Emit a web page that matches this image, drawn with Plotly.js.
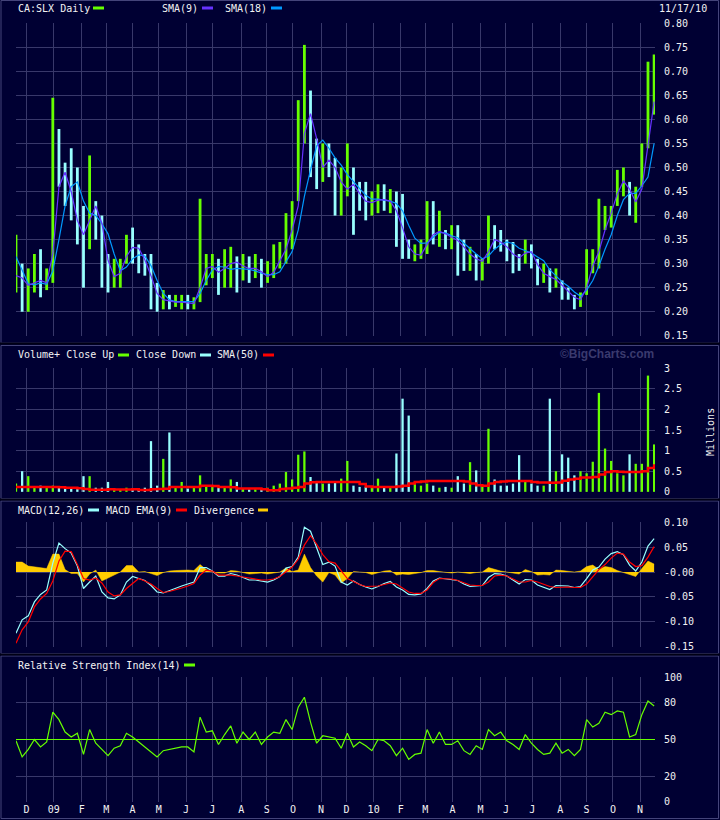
<!DOCTYPE html>
<html>
<head>
<meta charset="utf-8">
<script src="https://cdn.plot.ly/plotly-3.0.1.min.js"></script>
<style>
html,body{margin:0;padding:0;background:#000033;}
#chart{width:720px;height:820px;}
</style>
</head>
<body>
<div id="chart"></div>
<script>
// ---------- DATA (weekly samples) ----------
const weeks = [
'2008-11-19','2008-11-26','2008-12-03','2008-12-10','2008-12-17','2008-12-24','2008-12-31',
'2009-01-07','2009-01-14','2009-01-21','2009-01-28','2009-02-04','2009-02-11','2009-02-18','2009-02-25',
'2009-03-04','2009-03-11','2009-03-18','2009-03-25','2009-04-01','2009-04-08','2009-04-15','2009-04-22','2009-04-29',
'2009-05-06','2009-05-13','2009-05-20','2009-05-27','2009-06-03','2009-06-10','2009-06-17','2009-06-24',
'2009-07-01','2009-07-08','2009-07-15','2009-07-22','2009-07-29','2009-08-05','2009-08-12','2009-08-19','2009-08-26',
'2009-09-02','2009-09-09','2009-09-16','2009-09-23','2009-09-30','2009-10-07','2009-10-14','2009-10-21','2009-10-28',
'2009-11-04','2009-11-11','2009-11-18','2009-11-25','2009-12-02','2009-12-09','2009-12-16','2009-12-23','2009-12-30',
'2010-01-06','2010-01-13','2010-01-20','2010-01-27','2010-02-03','2010-02-10','2010-02-17','2010-02-24',
'2010-03-03','2010-03-10','2010-03-17','2010-03-24','2010-03-31','2010-04-07','2010-04-14','2010-04-21','2010-04-28',
'2010-05-05','2010-05-12','2010-05-19','2010-05-26','2010-06-02','2010-06-09','2010-06-16','2010-06-23','2010-06-30',
'2010-07-07','2010-07-14','2010-07-21','2010-07-28','2010-08-04','2010-08-11','2010-08-18','2010-08-25',
'2010-09-01','2010-09-08','2010-09-15','2010-09-22','2010-09-29','2010-10-06','2010-10-13','2010-10-20','2010-10-27',
'2010-11-03','2010-11-10','2010-11-17'];

const high = [0.36,0.30,0.29,0.32,0.33,0.29,0.645,0.58,0.51,0.54,
0.50,0.42,0.525,0.43,0.40,0.32,0.31,0.31,0.36,0.375,
0.34,0.32,0.32,0.26,0.245,0.235,0.235,0.235,0.235,0.23,
0.435,0.32,0.32,0.31,0.33,0.335,0.315,0.32,0.315,0.32,
0.31,0.305,0.34,0.345,0.405,0.43,0.64,0.755,0.66,0.56,
0.55,0.55,0.52,0.50,0.55,0.50,0.47,0.47,0.45,0.465,
0.465,0.455,0.45,0.445,0.35,0.34,0.35,0.43,0.43,0.41,
0.37,0.38,0.38,0.35,0.335,0.32,0.31,0.40,0.38,0.37,
0.35,0.345,0.32,0.35,0.34,0.31,0.30,0.29,0.29,0.265,
0.25,0.235,0.24,0.33,0.33,0.435,0.42,0.42,0.495,0.50,
0.47,0.46,0.55,0.72,0.735];

const low = [0.24,0.20,0.20,0.24,0.23,0.245,0.26,0.46,0.42,0.39,
0.34,0.25,0.33,0.35,0.25,0.24,0.25,0.25,0.30,0.30,
0.28,0.275,0.205,0.20,0.205,0.205,0.21,0.205,0.205,0.205,
0.22,0.255,0.27,0.235,0.25,0.25,0.24,0.265,0.26,0.27,
0.25,0.26,0.27,0.29,0.30,0.33,0.43,0.55,0.48,0.455,
0.47,0.48,0.40,0.40,0.44,0.36,0.41,0.39,0.40,0.405,
0.41,0.405,0.335,0.31,0.31,0.305,0.31,0.32,0.34,0.335,
0.33,0.33,0.275,0.285,0.285,0.265,0.265,0.30,0.33,0.325,
0.305,0.28,0.285,0.30,0.29,0.255,0.26,0.24,0.25,0.225,
0.225,0.205,0.21,0.235,0.28,0.29,0.37,0.375,0.42,0.44,
0.40,0.385,0.46,0.54,0.61];

const close = [0.28,0.22,0.25,0.26,0.25,0.27,0.55,0.50,0.46,0.44,
0.40,0.34,0.42,0.40,0.30,0.27,0.28,0.29,0.34,0.33,
0.31,0.30,0.23,0.22,0.222,0.215,0.22,0.224,0.215,0.218,
0.29,0.30,0.305,0.28,0.30,0.302,0.29,0.30,0.29,0.292,
0.28,0.29,0.31,0.32,0.37,0.41,0.60,0.62,0.53,0.50,
0.52,0.51,0.44,0.46,0.49,0.46,0.44,0.42,0.43,0.435,
0.428,0.432,0.37,0.33,0.32,0.322,0.33,0.36,0.358,0.362,
0.355,0.357,0.32,0.31,0.312,0.29,0.30,0.36,0.35,0.345,
0.33,0.31,0.30,0.33,0.31,0.28,0.282,0.265,0.27,0.245,
0.235,0.22,0.225,0.30,0.31,0.38,0.40,0.41,0.46,0.47,
0.42,0.44,0.53,0.64,0.69];

const sma9 = [0.275,0.27,0.255,0.26,0.265,0.26,0.32,0.46,0.49,0.45,
0.39,0.36,0.39,0.42,0.384,0.307,0.273,0.28,0.315,0.334,
0.332,0.308,0.275,0.238,0.225,0.222,0.22,0.22,0.218,0.217,
0.25,0.29,0.294,0.282,0.29,0.30,0.303,0.295,0.29,0.29,
0.283,0.273,0.282,0.307,0.33,0.37,0.42,0.57,0.612,0.56,
0.50,0.515,0.50,0.47,0.455,0.465,0.446,0.43,0.427,0.432,
0.433,0.43,0.41,0.375,0.335,0.32,0.318,0.34,0.36,0.367,
0.362,0.355,0.348,0.335,0.32,0.31,0.305,0.325,0.35,0.345,
0.335,0.32,0.312,0.322,0.325,0.298,0.28,0.273,0.267,0.255,
0.242,0.23,0.225,0.25,0.295,0.325,0.37,0.405,0.445,0.472,
0.455,0.428,0.455,0.545,0.637];

const sma18 = [0.315,0.287,0.258,0.256,0.26,0.257,0.285,0.35,0.42,0.46,
0.47,0.43,0.405,0.40,0.383,0.362,0.32,0.285,0.293,0.31,
0.318,0.316,0.296,0.265,0.238,0.225,0.221,0.221,0.221,0.221,
0.238,0.265,0.287,0.294,0.293,0.288,0.29,0.289,0.288,0.285,
0.28,0.277,0.277,0.283,0.305,0.325,0.37,0.44,0.495,0.545,
0.557,0.54,0.52,0.505,0.485,0.47,0.455,0.442,0.434,0.434,
0.432,0.43,0.425,0.41,0.38,0.353,0.342,0.343,0.355,0.365,
0.364,0.358,0.354,0.342,0.332,0.32,0.31,0.316,0.33,0.34,
0.345,0.342,0.332,0.327,0.322,0.314,0.306,0.287,0.275,0.262,
0.253,0.241,0.232,0.245,0.265,0.295,0.33,0.36,0.40,0.433,
0.446,0.446,0.462,0.48,0.55];

// volume in millions
const volume = [0.2,0.5,0.38,0.12,0.15,0.1,0.15,0.1,0.1,0.1,
0.1,0.38,0.38,0.1,0.1,0.24,0.08,0.06,0.1,0.08,
0.08,0.1,1.23,0.15,0.8,1.44,0.1,0.24,0.08,0.1,
0.4,0.12,0.15,0.1,0.12,0.3,0.24,0.08,0.06,0.06,
0.08,0.1,0.15,0.2,0.48,0.3,0.9,0.98,0.36,0.25,
0.2,0.2,0.22,0.32,0.75,0.15,0.12,0.12,0.1,0.32,
0.12,0.1,0.93,2.26,1.85,0.25,0.15,0.2,0.15,0.1,
0.12,0.1,0.38,0.2,0.72,0.52,0.15,1.53,0.3,0.15,
0.15,0.2,0.89,0.25,0.2,0.15,0.15,2.26,0.5,0.91,
0.83,0.4,0.5,0.45,0.73,2.4,1.05,0.75,0.45,0.4,
0.91,0.68,0.68,2.82,1.15];

const volSma50 = [0.12,0.12,0.12,0.12,0.12,0.12,0.12,0.11,0.1,0.1,
0.09,0.07,0.05,0.05,0.05,0.06,0.055,0.055,0.055,0.06,
0.045,0.045,0.06,0.07,0.075,0.12,0.12,0.12,0.12,0.12,
0.145,0.145,0.14,0.12,0.12,0.11,0.08,0.08,0.08,0.08,
0.06,0.04,0.04,0.07,0.08,0.1,0.12,0.2,0.23,0.24,
0.24,0.24,0.24,0.24,0.24,0.24,0.19,0.13,0.12,0.12,
0.12,0.12,0.13,0.145,0.2,0.24,0.25,0.26,0.26,0.26,
0.26,0.26,0.26,0.25,0.2,0.16,0.145,0.2,0.24,0.25,
0.26,0.26,0.26,0.26,0.24,0.225,0.225,0.22,0.225,0.27,
0.3,0.32,0.35,0.35,0.36,0.42,0.48,0.5,0.49,0.48,
0.48,0.48,0.5,0.58,0.67];

const macd = [-0.123,-0.096,-0.088,-0.06,-0.045,-0.036,0.018,0.058,0.047,0.038,
0.012,-0.033,-0.02,-0.008,-0.04,-0.052,-0.054,-0.046,-0.02,-0.009,
-0.013,-0.017,-0.027,-0.04,-0.042,-0.037,-0.033,-0.028,-0.024,-0.02,
0.009,0.009,0.002,-0.008,-0.008,-0.003,-0.006,-0.011,-0.016,-0.016,
-0.018,-0.02,-0.016,-0.009,0.008,0.011,0.03,0.09,0.082,0.048,
0.015,0.02,0.012,-0.02,-0.026,-0.018,-0.025,-0.03,-0.034,-0.029,
-0.023,-0.019,-0.03,-0.036,-0.045,-0.046,-0.044,-0.033,-0.018,-0.012,
-0.014,-0.016,-0.017,-0.024,-0.029,-0.028,-0.027,-0.011,-0.003,-0.004,
-0.008,-0.016,-0.024,-0.015,-0.016,-0.026,-0.03,-0.035,-0.027,-0.027,
-0.028,-0.031,-0.029,-0.013,0.004,0.01,0.026,0.037,0.041,0.035,
0.014,0.002,0.02,0.052,0.067];

const macdSignal = [-0.143,-0.116,-0.10,-0.07,-0.054,-0.043,-0.018,0.022,0.042,0.041,
0.015,-0.013,-0.016,-0.012,-0.022,-0.04,-0.048,-0.046,-0.033,-0.022,
-0.013,-0.018,-0.024,-0.033,-0.041,-0.039,-0.036,-0.032,-0.028,-0.023,
-0.006,0.004,0.002,-0.006,-0.006,-0.006,-0.008,-0.01,-0.012,-0.013,
-0.016,-0.016,-0.014,-0.009,0.0,0.01,0.026,0.054,0.073,0.056,
0.035,0.021,0.018,0.002,-0.013,-0.019,-0.025,-0.029,-0.029,-0.028,
-0.025,-0.022,-0.024,-0.032,-0.04,-0.043,-0.043,-0.036,-0.021,-0.013,
-0.013,-0.014,-0.017,-0.022,-0.026,-0.027,-0.027,-0.02,-0.008,-0.006,
-0.008,-0.014,-0.02,-0.02,-0.017,-0.02,-0.025,-0.029,-0.031,-0.03,
-0.03,-0.031,-0.031,-0.024,-0.01,0.005,0.015,0.028,0.038,0.036,
0.02,0.011,0.013,0.03,0.051];

const rsi = [49,36,42,50,44,48,72,66,56,52,
55,38,58,47,42,37,43,45,55,52,
48,44,40,36,41,42,43,44,44,40,
68,56,57,46,54,61,47,56,50,56,
46,52,56,55,66,58,76,84,64,47,
53,52,51,43,55,44,48,45,41,50,
49,45,37,43,34,38,39,58,47,56,
46,46,49,41,38,45,42,58,53,56,
49,46,42,54,47,42,38,39,47,39,
42,37,42,66,60,63,72,70,73,72,
52,54,70,81,77];

const monthTicks = ['2008-12-01','2009-01-01','2009-02-02','2009-03-02','2009-04-01','2009-05-01','2009-06-01',
'2009-07-01','2009-08-03','2009-09-01','2009-10-01','2009-11-02','2009-12-01','2010-01-01','2010-02-01',
'2010-03-01','2010-04-01','2010-05-03','2010-06-01','2010-07-01','2010-08-02','2010-09-01','2010-10-01','2010-11-01'];
const monthLabels = ['D','09','F','M','A','M','J','J','A','S','O','N','D','10','F','M','A','M','J','J','A','S','O','N'];

const priceTicks = [0.15,0.20,0.25,0.30,0.35,0.40,0.45,0.50,0.55,0.60,0.65,0.70,0.75,0.80];
const volTicks = [0,0.5,1,1.5,2,2.5,3];
const volTickText = ['0','0.5','1','1.5','2','2.5','3'];
const macdTicks = [-0.15,-0.10,-0.05,0,0.05,0.10];
const macdTickText = ['-0.15','-0.10','-0.05','-0.00','0.05','0.10'];
const rsiTicks = [0,20,50,80,100];

// ---------- STYLE ----------
const BG = '#000033', GRID = '#38386a', FRAME = '#44447a', TXT = '#f2f2f2';
const UP = '#66ff00', DOWN = '#99ffff';
const MONO = 'DejaVu Sans Mono, monospace';
const W = 720, H = 820, L = 16, R = 65, T = 23, B = 18;
const PW = W - L - R, PH = H - T - B;
const px = x => (x - L) / PW;
const py = y => (H - B - y) / PH;
const DAY = 86400000;

// derived
const upDown = close.map((c, i) => (i === 0 || c >= close[i - 1]) ? UP : DOWN);
const span = high.map((h, i) => h - low[i]);
const divergence = macd.map((m, i) => m - macdSignal[i]);

const traces = [
  {type:'bar', x:weeks, y:span, base:low, width:3.2*DAY, marker:{color:upDown, line:{width:0}}, xaxis:'x', yaxis:'y'},
  {type:'scatter', mode:'lines', x:weeks, y:sma18, line:{color:'#0099ff', width:1.2}, xaxis:'x', yaxis:'y'},
  {type:'scatter', mode:'lines', x:weeks, y:sma9, line:{color:'#6633ff', width:1.2}, xaxis:'x', yaxis:'y'},

  {type:'bar', x:weeks, y:volume, width:2.6*DAY, marker:{color:upDown, line:{width:0}}, xaxis:'x', yaxis:'y2'},
  {type:'scatter', mode:'lines', x:weeks, y:volSma50, line:{color:'#ff0000', width:2.5, shape:'hv'}, xaxis:'x', yaxis:'y2'},

  {type:'scatter', mode:'lines', x:weeks, y:divergence, fill:'tozeroy', fillcolor:'#ffcc00', line:{color:'#ffcc00', width:0.5}, xaxis:'x', yaxis:'y3'},
  {type:'scatter', mode:'lines', x:weeks, y:macd, line:{color:'#99ffff', width:1.2}, xaxis:'x', yaxis:'y3'},
  {type:'scatter', mode:'lines', x:weeks, y:macdSignal, line:{color:'#ff0000', width:1.2}, xaxis:'x', yaxis:'y3'},

  {type:'scatter', mode:'lines', x:weeks, y:rsi, line:{color:UP, width:1.2}, xaxis:'x', yaxis:'y4'}
];

const yBase = {side:'right', anchor:'x', showgrid:true, gridcolor:GRID, gridwidth:1, zeroline:false, showline:false,
  ticks:'outside', ticklen:6, tickcolor:'rgba(0,0,0,0)', tickfont:{family:MONO, size:10, color:TXT}, fixedrange:true};

function txt(text, x, y, extra) {
  return Object.assign({text:text, xref:'paper', yref:'paper', x:px(x), y:py(y), xanchor:'left', yanchor:'middle',
    showarrow:false, font:{family:MONO, size:10, color:TXT}}, extra || {});
}
function swatch(x0, x1, y, color) {
  return {type:'line', xref:'paper', yref:'paper', x0:px(x0), x1:px(x1), y0:py(y), y1:py(y), line:{color:color, width:3}};
}
function frame(y0, y1) {
  return {type:'rect', xref:'paper', yref:'paper', x0:px(1), x1:px(718.5), y0:py(y1), y1:py(y0), line:{color:FRAME, width:1}, layer:'below'};
}
function darkLine(y) {
  return {type:'line', xref:'paper', yref:'paper', x0:px(0), x1:px(720), y0:py(y), y1:py(y), line:{color:'#000014', width:2}};
}

const layout = {
  width:W, height:H, margin:{l:L, r:R, t:T, b:B},
  paper_bgcolor:BG, plot_bgcolor:BG, showlegend:false, hovermode:false,
  xaxis:{type:'date', anchor:'y4', range:['2008-11-19','2010-11-18'], tickvals:monthTicks, ticktext:monthLabels,
    showgrid:true, gridcolor:GRID, gridwidth:1, zeroline:false, showline:false, ticks:'',
    tickfont:{family:MONO, size:10, color:TXT}, fixedrange:true},
  yaxis: Object.assign({}, yBase, {domain:[py(336), py(23)], range:[0.1495, 0.8005], tickvals:priceTicks, tickformat:'.2f'}),
  yaxis2: Object.assign({}, yBase, {domain:[py(492), py(368)], range:[-0.004, 3.004], tickvals:volTicks, ticktext:volTickText}),
  yaxis3: Object.assign({}, yBase, {domain:[py(647), py(522)], range:[-0.1505, 0.1005], tickvals:macdTicks, ticktext:macdTickText}),
  yaxis4: Object.assign({}, yBase, {domain:[py(802), py(677)], range:[-0.3, 100.3], tickvals:rsiTicks}),
  shapes:[
    frame(0.5, 343), frame(345.5, 498.5), frame(501, 653.5), frame(656, 818.5),
    darkLine(343.5), darkLine(499.5), darkLine(654.5),
    {type:'line', xref:'paper', yref:'y4', x0:0, x1:1, y0:50, y1:50, line:{color:UP, width:1}},
    swatch(93,104,8,UP), swatch(202,213,8,'#6633ff'), swatch(271,282,8,'#0099ff'),
    swatch(118,129,355,UP), swatch(200,211,355,DOWN), swatch(263,274,355,'#ff0000'),
    swatch(88,99,510,DOWN), swatch(176,187,510,'#ff0000'), swatch(258,268,510,'#ffcc00'),
    swatch(184,195,665,UP)
  ],
  annotations:[
    txt('CA:SLX Daily', 16, 8), txt('SMA(9)', 160, 8), txt('SMA(18)', 223, 8),
    txt('11/17/10', 657, 8),
    txt('Volume+ Close Up', 16, 355), txt('Close Down', 134, 355), txt('SMA(50)', 215, 355),
    txt('<b>©BigCharts.com</b>', 656, 354, {xanchor:'right', font:{family:'Liberation Sans, Arial, sans-serif', size:12, color:'#3a3a6e'}}),
    txt('Millions', 710, 432, {xanchor:'center', textangle:-90}),
    txt('MACD(12,26)', 16, 510), txt('MACD EMA(9)', 104, 510), txt('Divergence', 192, 510),
    txt('Relative Strength Index(14)', 16, 665)
  ]
};

Plotly.newPlot('chart', traces, layout, {staticPlot:true, displayModeBar:false});
</script>
</body>
</html>
